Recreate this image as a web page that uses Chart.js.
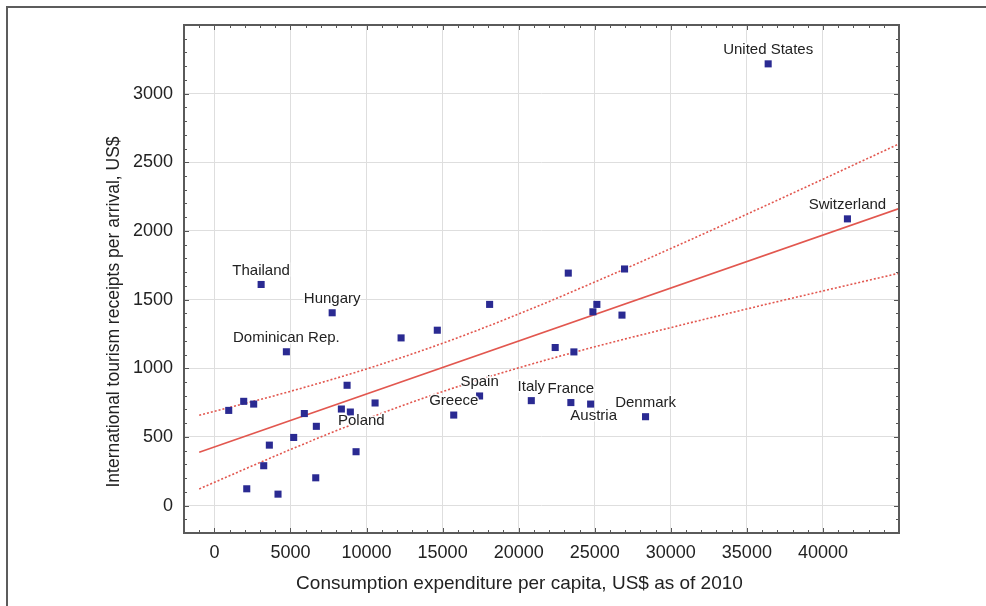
<!DOCTYPE html>
<html>
<head>
<meta charset="utf-8">
<title>Tourism receipts vs consumption expenditure</title>
<script src="https://cdn.jsdelivr.net/npm/chart.js@4.4.1/dist/chart.umd.min.js"></script>
<style>
  html, body { margin: 0; padding: 0; background: #fff; }
  #wrap { position: relative; width: 986px; height: 606px; overflow: hidden; }
  #frame { position: absolute; left: 6px; top: 6px; right: -4px; bottom: -4px;
           border-top: 2px solid #5c5c5c; border-left: 2px solid #5c5c5c; }
  canvas { position: absolute; left: 0; top: 0; }
</style>
</head>
<body>
<div id="wrap">
  <div id="frame"></div>
  <canvas id="chart" width="986" height="606"></canvas>
</div>
<script>
// countries (consumption expenditure per capita vs receipts per arrival)
const expenditure = [3070, 7740, 4730, 12270, 14650, 8720, 940, 1925, 2580, 5910,
                     8345, 8935, 10560, 6700, 5210, 3610, 9310, 3240, 6660, 2125,
                     4180, 15730, 18090, 23260, 26960, 25140, 24880, 26790, 22400, 23630,
                     17430, 20830, 23430, 24730, 28340, 36400, 41610];
const receipts =    [1610, 1404, 1120, 1221, 1277, 876, 693, 759, 739, 670,
                     703, 681, 747, 577, 496, 440, 392, 290, 202, 122,
                     83, 659, 1465, 1693, 1723, 1465, 1411, 1387, 1151, 1119,
                     798, 764, 750, 739, 647, 3217, 2088];
const countryNames = ["Thailand", "Hungary", "Dominican Rep.", "", "", "", "", "", "", "",
                      "", "Poland", "", "", "", "", "", "", "", "",
                      "", "Greece", "", "", "", "", "", "", "", "",
                      "Spain", "Italy", "France", "Austria", "Denmark", "United States", "Switzerland"];

// regression line and its dotted band
const fitX   = [-1000, 45000];
const fitY   = [389, 2163];
const bandX  = [-1000, 5000, 10000, 15000, 20000, 25000, 30000, 35000, 40000, 45000];
const bandUp = [657, 832, 995, 1182, 1395, 1628, 1872, 2122, 2377, 2634];
const bandLo = [121, 408, 631, 830, 1003, 1156, 1296, 1432, 1563, 1692];

const xTickValues = [0, 5000, 10000, 15000, 20000, 25000, 30000, 35000, 40000];
const yTickValues = [0, 500, 1000, 1500, 2000, 2500, 3000];

const xTitle = 'Consumption expenditure per capita, US$ as of 2010';
const yTitle = 'International tourism receipts per arrival, US$';

const FONT = "'Liberation Sans', Arial, sans-serif";
const TEXT = '#222';
const RED = '#e2574f';

function pts(xs, ys) { return xs.map((x, i) => ({ x: x, y: ys[i] })); }

// labels next to the named points
const below = { 'Austria': [3, 12], 'Poland': [11, 9] };
const labelPlugin = {
  id: 'countryLabels',
  afterDatasetsDraw(chart) {
    const ctx = chart.ctx;
    const meta = chart.getDatasetMeta(0);
    ctx.save();
    ctx.font = '15px ' + FONT;
    ctx.textAlign = 'center';
    ctx.textBaseline = 'middle';
    countryNames.forEach((name, i) => {
      if (!name) return;
      const el = meta.data[i];
      let dx = 0, dy = -14;
      if (below[name]) { dx = below[name][0]; dy = below[name][1]; }
      ctx.lineWidth = 3;
      ctx.strokeStyle = 'rgba(255,255,255,0.85)';
      ctx.strokeText(name, el.x + dx, el.y + dy);
      ctx.fillStyle = TEXT;
      ctx.fillText(name, el.x + dx, el.y + dy);
    });
    ctx.restore();
  }
};

// box round the plot with small inward tick marks, plus the axis titles
const framePlugin = {
  id: 'plotFrame',
  afterDraw(chart) {
    const ctx = chart.ctx, a = chart.chartArea;
    const sx = chart.scales.x, sy = chart.scales.y;
    ctx.save();
    ctx.strokeStyle = '#555';
    ctx.lineWidth = 1;
    ctx.beginPath();
    for (let v = -2000; v <= 45000; v += 1000) {
      const p = Math.round(sx.getPixelForValue(v)) + 0.5;
      const len = v % 5000 === 0 ? 5 : 3;
      ctx.moveTo(p, a.bottom); ctx.lineTo(p, a.bottom - len);
      ctx.moveTo(p, a.top); ctx.lineTo(p, a.top + len);
    }
    for (let v = -200; v <= 3500; v += 100) {
      const p = Math.round(sy.getPixelForValue(v)) + 0.5;
      const len = v % 500 === 0 ? 5 : 3;
      ctx.moveTo(a.left, p); ctx.lineTo(a.left + len, p);
      ctx.moveTo(a.right, p); ctx.lineTo(a.right - len, p);
    }
    ctx.stroke();
    ctx.lineWidth = 2;
    ctx.strokeStyle = '#5a5a5a';
    ctx.strokeRect(a.left, a.top, a.right - a.left, a.bottom - a.top);

    // titles sit a little towards the lower left of the plot centre
    ctx.fillStyle = TEXT;
    ctx.textAlign = 'center';
    ctx.textBaseline = 'middle';
    ctx.font = '19px ' + FONT;
    ctx.fillText(xTitle, (a.left + a.right) / 2 - 22, a.bottom + 51);
    ctx.translate(a.left - 70, (a.top + a.bottom) / 2 + 33);
    ctx.rotate(-Math.PI / 2);
    ctx.font = '17.5px ' + FONT;
    ctx.fillText(yTitle, 0, 0);
    ctx.restore();
  }
};

new Chart(document.getElementById('chart'), {
  type: 'scatter',
  data: {
    datasets: [
      {
        label: 'Countries',
        data: pts(expenditure, receipts),
        pointStyle: 'rect',
        pointRadius: 5,
        backgroundColor: '#2a2a92',
        borderColor: '#2a2a92',
        borderWidth: 0
      },
      {
        type: 'line',
        label: 'Fit',
        data: pts(fitX, fitY),
        borderColor: RED,
        borderWidth: 1.6,
        pointRadius: 0,
        fill: false
      },
      {
        type: 'line',
        label: 'Upper',
        data: pts(bandX, bandUp),
        borderColor: RED,
        borderWidth: 1.6,
        borderDash: [2, 2],
        cubicInterpolationMode: 'monotone',
        pointRadius: 0,
        fill: false
      },
      {
        type: 'line',
        label: 'Lower',
        data: pts(bandX, bandLo),
        borderColor: RED,
        borderWidth: 1.6,
        borderDash: [2, 2],
        cubicInterpolationMode: 'monotone',
        pointRadius: 0,
        fill: false
      }
    ]
  },
  options: {
    responsive: false,
    animation: false,
    devicePixelRatio: 1,
    layout: { padding: { left: 102, top: 25, right: 87, bottom: 13 } },
    plugins: { legend: { display: false }, tooltip: { enabled: false } },
    scales: {
      x: {
        type: 'linear',
        min: -2000,
        max: 45000,
        afterBuildTicks: s => { s.ticks = xTickValues.map(v => ({ value: v })); },
        afterFit: s => { s.height = 60; },
        grid: { color: '#dedede', drawTicks: false },
        border: { display: false },
        ticks: {
          color: TEXT, font: { family: FONT, size: 18 }, padding: 9, maxRotation: 0,
          callback: v => String(v)
        }
      },
      y: {
        min: -200,
        max: 3500,
        afterBuildTicks: s => { s.ticks = yTickValues.map(v => ({ value: v })); },
        afterFit: s => { s.width = 82; },
        grid: { color: '#dedede', drawTicks: false },
        border: { display: false },
        ticks: {
          color: TEXT, font: { family: FONT, size: 18 }, padding: 11,
          callback: v => String(v)
        }
      }
    }
  },
  plugins: [labelPlugin, framePlugin]
});
</script>
</body>
</html>
